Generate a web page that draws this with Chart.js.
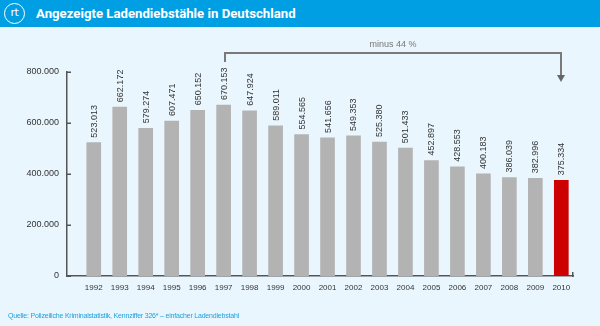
<!DOCTYPE html>
<html>
<head>
<meta charset="utf-8">
<script src="https://cdn.jsdelivr.net/npm/chart.js@4.4.1/dist/chart.umd.min.js"></script>
<style>
  html, body { margin: 0; padding: 0; }
  #box { position: relative; width: 600px; height: 326px; background: #eaf6fd; overflow: hidden; font-family: "Liberation Sans", Arial, sans-serif; }
  #head { position: absolute; left: 0; top: 0; width: 600px; height: 27px; background: #009fe3; }
  #logo { position: absolute; left: 4px; top: 3px; width: 19px; height: 19px; border: 1.5px solid #fff; border-radius: 50%;
          color: #fff; font: 11px "DejaVu Sans", sans-serif; line-height: 18px; text-align: center; letter-spacing: -0.5px; }
  #title { position: absolute; left: 36px; top: 0; color: #fff; font: bold 13.2px Roboto, sans-serif; line-height: 27px; white-space: nowrap; }
  #src { position: absolute; left: 8px; top: 311px; color: #1a9fe0; font: 7px "Liberation Sans", sans-serif; line-height: 10px; white-space: nowrap; letter-spacing: -0.2px; }
  canvas { position: absolute; left: 0; top: 0; }
</style>
</head>
<body>
<div id="box">
  <div id="head"><div id="logo">rt</div><div id="title">Angezeigte Ladendiebstähle in Deutschland</div></div>
  <canvas id="chart" width="600" height="326"></canvas>
  <div id="src">Quelle: Polizeiliche Kriminalstatistik, Kennziffer 326* – einfacher Ladendiebstahl</div>
</div>
<script>
// data
var years = [1992, 1993, 1994, 1995, 1996, 1997, 1998, 1999, 2000, 2001, 2002, 2003, 2004, 2005, 2006, 2007, 2008, 2009, 2010];
var cases = [523013, 662172, 579274, 607471, 650152, 670153, 647924, 589011, 554565, 541656, 549353, 525380, 501433, 452897, 428553, 400183, 386039, 382996, 375334];
var yTicks = [0, 200000, 400000, 600000, 800000];
var dropFrom = 1997, dropTo = 2010, dropText = 'minus 44 %';

function fmt(v) {
  return String(v).replace(/\B(?=(\d{3})+(?!\d))/g, '.');
}

var axisColor = '#555';

// inward ticks, value labels and the "minus 44 %" bracket
var extras = {
  id: 'extras',
  afterDraw: function(chart) {
    var ctx = chart.ctx, a = chart.chartArea;
    var xs = chart.scales.x, ys = chart.scales.y;
    var L = Math.round(a.left), B = Math.round(a.bottom), R = Math.round(a.right);
    ctx.save();
    ctx.fillStyle = axisColor;
    ctx.fillRect(R - 1, B - 4, 1.5, 5);
    yTicks.forEach(function(t) {
      var py = Math.round(ys.getPixelForValue(t));
      ctx.fillRect(L, py - 0.5, 4, 1.5);
    });

    ctx.fillStyle = '#333';
    ctx.font = '9px "Liberation Sans", Arial, sans-serif';
    ctx.textAlign = 'left';
    ctx.textBaseline = 'middle';
    chart.getDatasetMeta(0).data.forEach(function(bar, i) {
      ctx.save();
      ctx.translate(bar.x + 0.5, bar.y - 5);
      ctx.rotate(-Math.PI / 2);
      ctx.fillText(fmt(cases[i]), 0, 0);
      ctx.restore();
    });

    var x1 = Math.round(xs.getPixelForValue(dropFrom));
    var x2 = Math.round(xs.getPixelForValue(dropTo)) - 1;
    ctx.fillStyle = '#7a7a7a';
    ctx.fillRect(x1, 52, 2, 10);
    ctx.fillRect(x1, 52, x2 - x1 + 2, 2);
    ctx.fillRect(x2, 52, 2, 24);
    ctx.fillStyle = '#666';
    ctx.beginPath();
    ctx.moveTo(x2 - 3, 75);
    ctx.lineTo(x2 + 5, 75);
    ctx.lineTo(x2 + 1, 82);
    ctx.closePath();
    ctx.fill();
    ctx.fillStyle = '#777';
    ctx.textAlign = 'center';
    ctx.fillText(dropText, (x1 + x2) / 2 + 1, 45);
    ctx.restore();
  }
};

new Chart(document.getElementById('chart'), {
  type: 'bar',
  data: {
    datasets: [{
      data: years.map(function(yr, i) { return { x: yr, y: cases[i] }; }),
      backgroundColor: years.map(function(yr) { return yr === dropTo ? '#cc0000' : '#b3b3b3'; }),
      barThickness: 14
    }]
  },
  options: {
    responsive: false,
    animation: false,
    events: [],
    layout: { padding: { top: 72, right: 27, left: 0, bottom: 0 } },
    plugins: { legend: { display: false }, tooltip: { enabled: false } },
    scales: {
      x: {
        type: 'linear',
        offset: false,
        min: 1990.97,
        max: 2010.45,
        afterBuildTicks: function(s) { s.ticks = years.map(function(v) { return { value: v }; }); },
        afterFit: function(s) { s.height = 50; },
        grid: { display: false, drawTicks: false },
        border: { display: true, color: axisColor, width: 1.5 },
        ticks: {
          autoSkip: false, maxRotation: 0, padding: 7, color: '#333',
          font: { family: '"Liberation Sans", Arial, sans-serif', size: 8 },
          callback: function(v) { return String(v); }
        }
      },
      y: {
        min: 0,
        max: 800000,
        afterBuildTicks: function(s) { s.ticks = yTicks.map(function(v) { return { value: v }; }); },
        afterFit: function(s) { s.width = 67; },
        grid: { display: false, drawTicks: false },
        border: { display: true, color: axisColor, width: 1.5 },
        ticks: {
          padding: 8, color: '#333',
          font: { family: '"Liberation Sans", Arial, sans-serif', size: 9 },
          callback: function(v) { return fmt(v); }
        }
      }
    }
  },
  plugins: [extras]
});
</script>
</body>
</html>
